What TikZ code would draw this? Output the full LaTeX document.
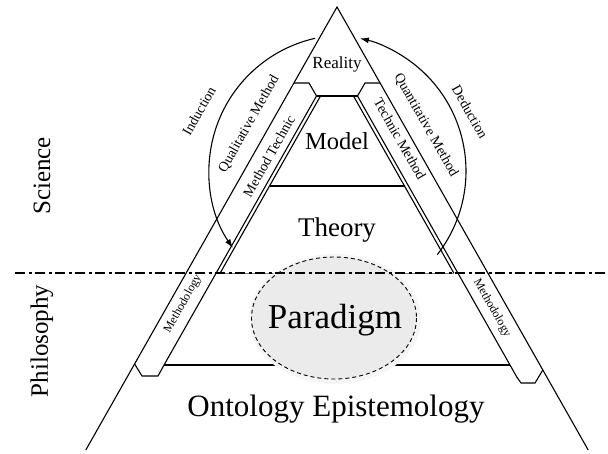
\documentclass[tikz,border=0pt]{standalone}
\usepackage{fontspec}
\setmainfont{Liberation Serif}
\usetikzlibrary{arrows.meta}
\def\FS#1{\fontsize{#1}{#1}\selectfont}

\begin{document}
\begin{tikzpicture}[x=1pt,y=-1pt,line width=1.1pt,
  lbl/.style={inner sep=0pt},
  arr/.style={-{Latex[length=9pt,width=6pt]}},
  sep/.style={dash pattern=on 10pt off 3.5pt on 3pt off 3.5pt}]
\useasboundingbox (0,0) rectangle (608,453);
\draw (85.8,450) -- (337,7) -- (588.2,450);
\draw (293.9,83) -- (309,83) -- (316.5,96) -- (164.6,364) -- (158,376) -- (142,376) -- (134.6,364);
\draw (380.1,83) -- (365,83) -- (357.5,96) -- (516.8,377) -- (521,383) -- (535,383) -- (542.8,370);
\draw (316.5,96) -- (357.5,96);
\draw (320.5,96) -- (220.2,273);
\draw (353.5,96) -- (453.8,273);
\draw (269.5,186) -- (404.5,186);
\draw[gray,line width=0.8pt] (220.2,273) -- (453.8,273);
\draw (164.1,365) -- (509.9,365);
\fill[black!4] (335,319) ellipse [x radius=86, y radius=65];
\draw[fill=black!8,line width=0.9pt,dash pattern=on 4pt off 3pt] (334,318) ellipse [x radius=82.5, y radius=61];
\draw[sep] (15,273) -- (608,273);
\coordinate (indS) at (315.1,38.3);
\coordinate (dedS) at (437.3,254.6);
\draw[arr] (indS) arc [start angle=257.3, end angle=145.5, radius=136];
\draw[arr] (dedS) arc [start angle=37.9, end angle=-77.3, radius=136];
\node[lbl] (real) at (337,64) {\FS{17}Reality};
\node[lbl] (model) at (337,141) {\FS{24.5}Model};
\node[lbl] (theo) at (337,230) {\FS{27}Theory};
\node[lbl] (para) at (335,320) {\FS{35}Paradigm};
\node[lbl] (onto) at (336,409) {\FS{31}Ontology Epistemology};
\node[lbl,rotate=90] (sci) at (42,176) {\FS{25}Science};
\node[lbl,rotate=90] (phil) at (42,341) {\FS{25}Philosophy};
\node[lbl,rotate=60.5] (ind) at (199,111) {\FS{14}Induction};
\node[lbl,rotate=-60.5] (ded) at (470,112) {\FS{14}Deduction};
\node[lbl,rotate=60.5] (qual) at (249,124) {\FS{14}Qualitative Method};
\node[lbl,rotate=60.5] (mtech) at (269,156) {\FS{14}Method Technic};
\node[lbl,rotate=-60.5] (quant) at (426,125) {\FS{14}Quantitative Method};
\node[lbl,rotate=-60.5] (tmeth) at (400,139) {\FS{14}Technic Method};
\node[lbl,rotate=60.5] (methL) at (183,304) {\FS{12}Methodology};
\node[lbl,rotate=-60.5] (methR) at (492,308) {\FS{12}Methodology};
\end{tikzpicture}
\end{document}
